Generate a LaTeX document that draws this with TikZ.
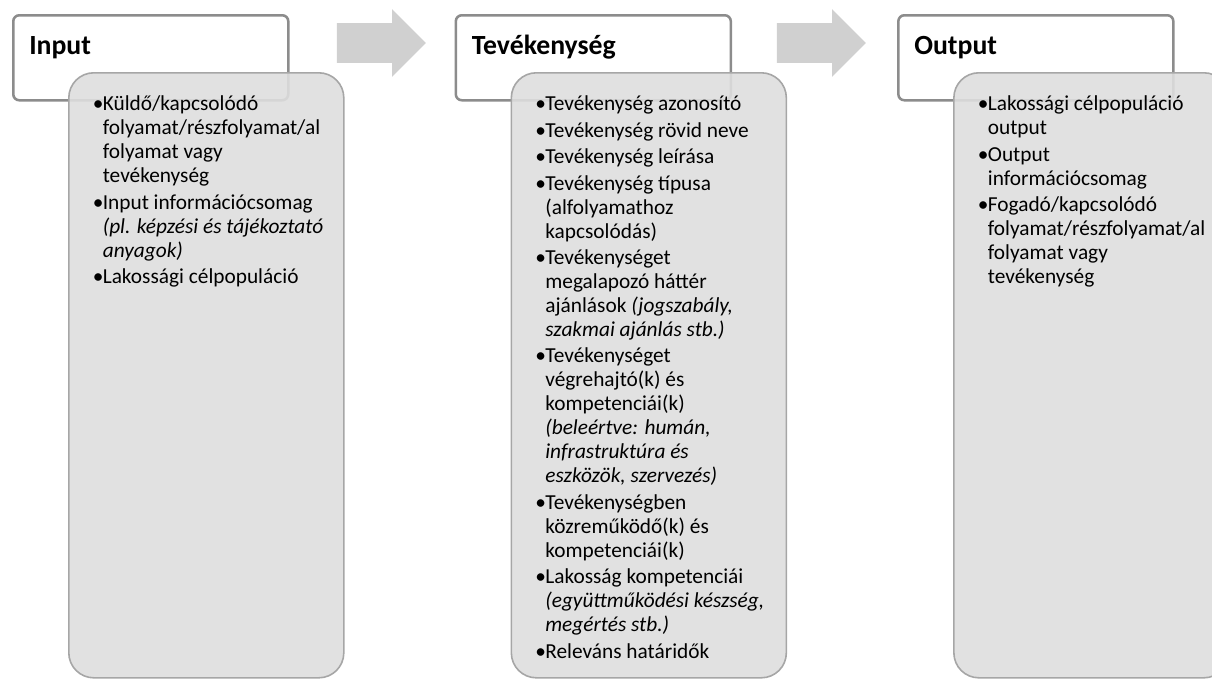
\documentclass[tikz,border=0pt]{standalone}
\usepackage{fontspec}
\setmainfont{Carlito}
\usetikzlibrary{positioning}
\usetikzlibrary{shapes.arrows}

\definecolor{headline}{HTML}{8C8C8C}
\definecolor{detailline}{HTML}{A6A6A6}
\definecolor{detailfill}{HTML}{DEDEDE}
\definecolor{arrowfill}{HTML}{D0D0D0}

% one bullet point with hanging indent
\newcommand{\itm}[1]{\leftskip=12pt\parskip=1.8pt\lineskiplimit=-10pt\noindent\hangindent=7.5pt\makebox[7.5pt][l]{\textbullet}#1\par}

\begin{document}
\begin{tikzpicture}[x=0.75pt, y=-0.75pt,
    header/.style={draw=headline, line width=1.9pt, fill=white, rounded corners=4.5pt, anchor=north west, minimum width=206.25pt, inner xsep=12pt, inner ysep=0pt, text width=182.25pt, align=flush left, text height=29.25pt, text depth=34.5pt, font=\fontsize{20.8pt}{25pt}\selectfont\bfseries},
    detail/.style={draw=detailline, line width=1.2pt, fill=detailfill, fill opacity=0.9, text opacity=1, rounded corners=18.75pt, anchor=north west, minimum width=206.25pt, inner xsep=6pt, inner ysep=0pt, text width=194.25pt, align=flush left, text height=28.5pt, text depth=425.25pt, font=\fontsize{16pt}{18pt}\selectfont},
    flowarrow/.style={single arrow, draw=none, fill=arrowfill, minimum height=66.75pt, minimum width=50.25pt, single arrow head extend=10.5pt, single arrow tip angle=90, inner xsep=0pt, inner ysep=14.625pt}]
    \path[use as bounding box, clip] (0,0) rectangle (1212,678);

    % Input
    \node [header] (input) at (12,14) {Input};
    \node [detail, below right=43.5pt and 42pt of input.north west] (inputList) {%
        \itm{Küldő/kapcsolódó\newline folyamat/részfolyamat/al\newline folyamat vagy\newline tevékenység}
        \itm{Input információcsomag\newline \textit{(pl. képzési és tájékoztató\newline anyagok)}}
        \itm{Lakossági célpopuláció}};

    % Tevékenység
    \node [header, below right=0pt and 123.75pt of input.north east] (task) {Tevékenység};
    \node [detail, below right=43.5pt and 42pt of task.north west] (taskList) {%
        \itm{Tevékenység azonosító}
        \itm{Tevékenység rövid neve}
        \itm{Tevékenység leírása}
        \itm{Tevékenység típusa\newline (alfolyamathoz\newline kapcsolódás)}
        \itm{Tevékenységet\newline megalapozó háttér\newline ajánlások \textit{(jogszabály,\newline szakmai ajánlás stb.)}}
        \itm{Tevékenységet\newline végrehajtó(k) és\newline kompetenciái(k)\newline \textit{(beleértve: humán,\newline infrastruktúra és\newline eszközök, szervezés)}}
        \itm{Tevékenységben\newline közreműködő(k) és\newline kompetenciái(k)}
        \itm{Lakosság kompetenciái\newline \textit{(együttműködési készség,\newline megértés stb.)}}
        \itm{Releváns határidők}};

    % Output
    \node [header, below right=0pt and 123.75pt of task.north east] (output) {Output};
    \node [detail, below right=43.5pt and 42pt of output.north west] (outputList) {%
        \itm{Lakossági célpopuláció\newline output}
        \itm{Output\newline információcsomag}
        \itm{Fogadó/kapcsolódó\newline folyamat/részfolyamat/al\newline folyamat vagy\newline tevékenység}};

    \node [flowarrow] (arrowA) at (371.5,43) {};
    \node [flowarrow] (arrowB) at (811.5,43) {};
\end{tikzpicture}
\end{document}
